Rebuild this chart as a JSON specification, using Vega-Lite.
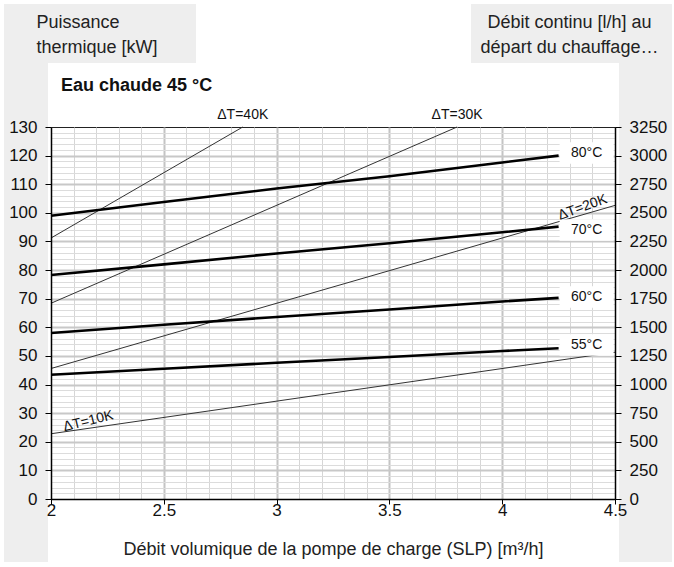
{
  "$schema": "https://vega.github.io/schema/vega-lite/v6.json",
  "width": 564,
  "height": 372,
  "autosize": {"type": "none"},
  "padding": {"left": 51, "top": 127, "right": 59, "bottom": 68},
  "background": "white",
  "title": {"text": "Eau chaude 45 °C", "anchor": "start", "frame": "group", "dx": 10, "offset": -105, "baseline": "alphabetic", "font": "Liberation Sans", "fontSize": 18, "fontWeight": "bold", "color": "#111"},
  "config": {
    "font": "Liberation Sans",
    "view": {"stroke": "#222", "strokeWidth": 1},
    "axis": {"labelFont": "Liberation Sans", "titleFont": "Liberation Sans", "labelFlush": false}
  },
  "datasets": {
    "temp": [
      {"s": "80°C", "q": 2, "p": 99}, {"s": "80°C", "q": 2.5, "p": 103.8}, {"s": "80°C", "q": 3, "p": 108.5}, {"s": "80°C", "q": 3.5, "p": 112.8}, {"s": "80°C", "q": 4, "p": 117.6}, {"s": "80°C", "q": 4.25, "p": 120},
      {"s": "70°C", "q": 2, "p": 78.3}, {"s": "70°C", "q": 2.5, "p": 82}, {"s": "70°C", "q": 3, "p": 85.8}, {"s": "70°C", "q": 3.5, "p": 89.4}, {"s": "70°C", "q": 4, "p": 93.2}, {"s": "70°C", "q": 4.25, "p": 95.2},
      {"s": "60°C", "q": 2, "p": 58}, {"s": "60°C", "q": 2.5, "p": 60.9}, {"s": "60°C", "q": 3, "p": 63.6}, {"s": "60°C", "q": 3.5, "p": 66.2}, {"s": "60°C", "q": 4, "p": 69}, {"s": "60°C", "q": 4.25, "p": 70.3},
      {"s": "55°C", "q": 2, "p": 43.4}, {"s": "55°C", "q": 2.5, "p": 45.5}, {"s": "55°C", "q": 3, "p": 47.6}, {"s": "55°C", "q": 3.5, "p": 49.6}, {"s": "55°C", "q": 4, "p": 51.7}, {"s": "55°C", "q": 4.25, "p": 52.7}
    ],
    "dt": [
      {"s": "ΔT=10K", "q": 2, "p": 22.8}, {"s": "ΔT=10K", "q": 4.5, "p": 51.3},
      {"s": "ΔT=20K", "q": 2, "p": 45.6}, {"s": "ΔT=20K", "q": 4.5, "p": 102.6},
      {"s": "ΔT=30K", "q": 2, "p": 68.4}, {"s": "ΔT=30K", "q": 3.8, "p": 130},
      {"s": "ΔT=40K", "q": 2, "p": 91.2}, {"s": "ΔT=40K", "q": 2.85, "p": 130}
    ],
    "tlabels": [
      {"label": "80°C", "q": 4.25, "p": 120.9},
      {"label": "70°C", "q": 4.25, "p": 94.0},
      {"label": "60°C", "q": 4.25, "p": 70.6},
      {"label": "55°C", "q": 4.25, "p": 53.8}
    ],
    "dtlabels": [
      {"label": "ΔT=40K", "q": 2.85, "p": 130},
      {"label": "ΔT=30K", "q": 3.8, "p": 130},
      {"label": "ΔT=20K", "q": 4.367, "p": 99.6},
      {"label": "ΔT=10K", "q": 2.173, "p": 24.8}
    ]
  },
  "layer": [
    {
      "data": {"values": [{}]},
      "mark": {"type": "rect", "color": "#eeeeee"},
      "encoding": {
        "x": {"datum": 1.7917, "type": "quantitative", "scale": {"domain": [2, 4.5], "nice": false, "zero": false}, "axis": null},
        "x2": {"datum": 2.6427},
        "y": {"datum": 172.98, "type": "quantitative", "scale": {"domain": [0, 130], "nice": false}, "axis": null},
        "y2": {"datum": 152.36}
      }
    },
    {
      "data": {"values": [{}]},
      "mark": {"type": "rect", "color": "#eeeeee"},
      "encoding": {
        "x": {"datum": 1.7917, "type": "quantitative", "scale": {"domain": [2, 4.5], "nice": false, "zero": false}, "axis": null},
        "x2": {"datum": 1.9867},
        "y": {"datum": 152.36, "type": "quantitative", "scale": {"domain": [0, 130], "nice": false}, "axis": null},
        "y2": {"datum": -22.02}
      }
    },
    {
      "data": {"values": [{}]},
      "mark": {"type": "rect", "color": "#eeeeee"},
      "encoding": {
        "x": {"datum": 3.8617, "type": "quantitative", "scale": {"domain": [2, 4.5], "nice": false, "zero": false}, "axis": null},
        "x2": {"datum": 4.7527},
        "y": {"datum": 172.98, "type": "quantitative", "scale": {"domain": [0, 130], "nice": false}, "axis": null},
        "y2": {"datum": 152.36}
      }
    },
    {
      "data": {"values": [{}]},
      "mark": {"type": "rect", "color": "#eeeeee"},
      "encoding": {
        "x": {"datum": 4.5177, "type": "quantitative", "scale": {"domain": [2, 4.5], "nice": false, "zero": false}, "axis": null},
        "x2": {"datum": 4.7527},
        "y": {"datum": 152.36, "type": "quantitative", "scale": {"domain": [0, 130], "nice": false}, "axis": null},
        "y2": {"datum": -22.02}
      }
    },
    {
      "data": {"name": "dt"},
      "mark": {"type": "line", "color": "#333", "strokeWidth": 1},
      "encoding": {
        "x": {"field": "q", "type": "quantitative", "scale": {"domain": [2, 4.5], "nice": false, "zero": false},
          "axis": {"orient": "bottom", "values": [2.1,2.2,2.3,2.4,2.5,2.6,2.7,2.8,2.9,3,3.1,3.2,3.3,3.4,3.5,3.6,3.7,3.8,3.9,4,4.1,4.2,4.3,4.4],
            "grid": true, "labels": false, "ticks": false, "domain": false, "title": null, "zindex": 0,
            "gridColor": {"condition": {"test": "abs(datum.value*2 - round(datum.value*2)) < 0.001", "value": "#c4c4c4"}, "value": "#d6d6d6"},
            "gridWidth": {"condition": {"test": "abs(datum.value*2 - round(datum.value*2)) < 0.001", "value": 2}, "value": 1}}},
        "y": {"field": "p", "type": "quantitative", "scale": {"domain": [0, 130], "nice": false},
          "axis": {"orient": "left", "values": [2,4,6,8,10,12,14,16,18,20,22,24,26,28,30,32,34,36,38,40,42,44,46,48,50,52,54,56,58,60,62,64,66,68,70,72,74,76,78,80,82,84,86,88,90,92,94,96,98,100,102,104,106,108,110,112,114,116,118,120,122,124,126,128],
            "grid": true, "labels": false, "ticks": false, "domain": false, "title": null, "zindex": 0,
            "gridColor": {"condition": {"test": "datum.value % 10 === 0", "value": "#c8c8c8"}, "value": "#dcdcdc"},
            "gridWidth": {"condition": {"test": "datum.value % 10 === 0", "value": 2}, "value": 1}}},
        "detail": {"field": "s"}
      }
    },
    {
      "data": {"name": "temp"},
      "mark": {"type": "line", "color": "black", "strokeWidth": 2.6},
      "encoding": {
        "x": {"field": "q", "type": "quantitative", "scale": {"domain": [2, 4.5], "nice": false, "zero": false},
          "axis": {"orient": "bottom", "values": [2, 2.5, 3, 3.5, 4, 4.5], "format": "~g", "grid": false,
            "tickColor": "black", "tickSize": 5, "domainColor": "black", "domainWidth": 1.5,
            "labelFontSize": 17, "labelPadding": -2, "labelColor": "#111",
            "title": "Débit volumique de la pompe de charge (SLP) [m³/h]", "titleFontSize": 18, "titleFontWeight": "normal", "titleColor": "#222", "titlePadding": 22, "zindex": 1}},
        "y": {"field": "p", "type": "quantitative", "scale": {"domain": [0, 130], "nice": false},
          "axis": {"orient": "left", "values": [0,10,20,30,40,50,60,70,80,90,100,110,120,130], "grid": false,
            "tickColor": "black", "tickSize": 6, "domainColor": "black", "domainWidth": 1.5,
            "labelFontSize": 17, "labelPadding": 8, "labelColor": "#111",
            "title": ["Puissance", "thermique [kW]"], "titleAngle": 0, "titleAlign": "left", "titleBaseline": "alphabetic",
            "titleX": -15, "titleY": -100, "titleFontSize": 18, "titleFontWeight": "normal", "titleColor": "#222", "titleLineHeight": 25, "zindex": 1}},
        "detail": {"field": "s"}
      }
    },
    {
      "data": {"name": "tlabels"},
      "mark": {"type": "point", "shape": "M-1,-0.4L1,-0.4L1,0.4L-1,0.4Z", "size": 2916, "filled": true, "color": "white", "opacity": 1, "strokeWidth": 0, "xOffset": 28},
      "encoding": {
        "x": {"field": "q", "type": "quantitative", "scale": {"domain": [2, 4.5], "nice": false, "zero": false}, "axis": null},
        "y": {"field": "p", "type": "quantitative", "scale": {"domain": [0, 130], "nice": false},
          "axis": {"orient": "right", "values": [0,10,20,30,40,50,60,70,80,90,100,110,120,130], "grid": false,
            "labelExpr": "format(datum.value*25, 'd')",
            "tickColor": "black", "tickSize": 6, "domainColor": "black", "domainWidth": 1.5,
            "labelFontSize": 17, "labelPadding": 8, "labelColor": "#111",
            "title": ["Débit continu [l/h] au", "départ du chauffage…"], "titleAngle": 0, "titleAlign": "center", "titleBaseline": "alphabetic",
            "titleX": -46, "titleY": -100, "titleFontSize": 18, "titleFontWeight": "normal", "titleColor": "#222", "titleLineHeight": 25, "zindex": 1}}
      }
    },
    {
      "data": {"name": "tlabels"},
      "mark": {"type": "text", "dx": 28, "fontSize": 14, "align": "center", "baseline": "middle", "color": "#111"},
      "encoding": {
        "x": {"field": "q", "type": "quantitative", "scale": {"domain": [2, 4.5], "nice": false, "zero": false}, "axis": null},
        "y": {"field": "p", "type": "quantitative", "scale": {"domain": [0, 130], "nice": false}, "axis": null},
        "text": {"field": "label"}
      }
    },
    {
      "data": {"name": "dtlabels"},
      "transform": [{"filter": "datum.label === 'ΔT=40K' || datum.label === 'ΔT=30K'"}],
      "mark": {"type": "text", "dy": -8, "fontSize": 14, "align": "center", "baseline": "alphabetic", "color": "#111"},
      "encoding": {
        "x": {"field": "q", "type": "quantitative", "scale": {"domain": [2, 4.5], "nice": false, "zero": false}, "axis": null},
        "y": {"field": "p", "type": "quantitative", "scale": {"domain": [0, 130], "nice": false}, "axis": null},
        "text": {"field": "label"}
      }
    },
    {
      "data": {"name": "dtlabels"},
      "transform": [{"filter": "datum.label === 'ΔT=20K'"}],
      "mark": {"type": "text", "dy": -3, "angle": -20, "fontSize": 14, "align": "center", "baseline": "alphabetic", "color": "#111"},
      "encoding": {
        "x": {"field": "q", "type": "quantitative", "scale": {"domain": [2, 4.5], "nice": false, "zero": false}, "axis": null},
        "y": {"field": "p", "type": "quantitative", "scale": {"domain": [0, 130], "nice": false}, "axis": null},
        "text": {"field": "label"}
      }
    },
    {
      "data": {"name": "dtlabels"},
      "transform": [{"filter": "datum.label === 'ΔT=10K'"}],
      "mark": {"type": "text", "dy": -3, "angle": -14, "fontSize": 14, "align": "center", "baseline": "alphabetic", "color": "#111"},
      "encoding": {
        "x": {"field": "q", "type": "quantitative", "scale": {"domain": [2, 4.5], "nice": false, "zero": false}, "axis": null},
        "y": {"field": "p", "type": "quantitative", "scale": {"domain": [0, 130], "nice": false}, "axis": null},
        "text": {"field": "label"}
      }
    }
  ],
  "resolve": {"axis": {"x": "independent", "y": "independent"}}
}
